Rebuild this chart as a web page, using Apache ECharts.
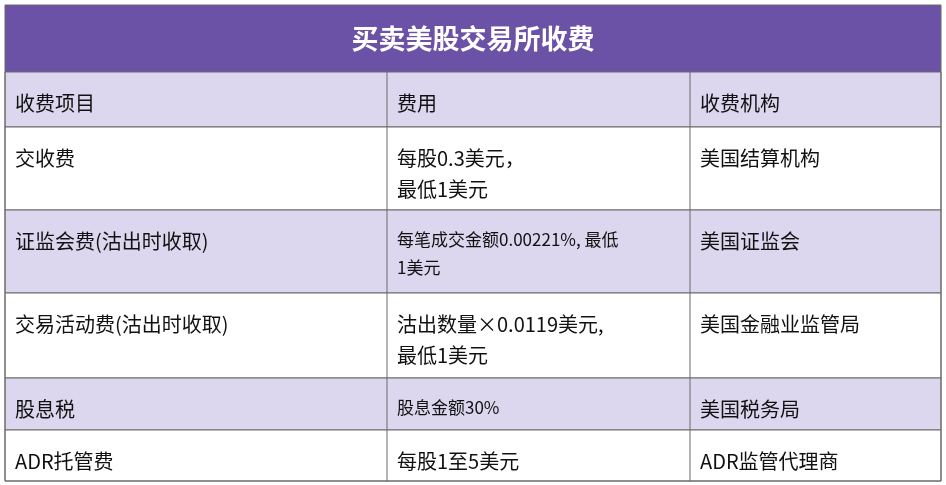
<!DOCTYPE html>
<html><head><meta charset="utf-8">
<script src="https://cdn.jsdelivr.net/npm/echarts@6/dist/echarts.min.js"></script>
<style>html,body{margin:0;background:#fff}#main{width:946px;height:485px}</style>
</head><body><div id="main"></div>
<script>
var title = '买卖美股交易所收费';
var headers = ['收费项目', '费用', '收费机构'];
var items = ['交收费', '证监会费(沽出时收取)', '交易活动费(沽出时收取)', '股息税', 'ADR托管费'];
var fees = ['每股0.3美元，\n最低1美元', '每笔成交金额0.00221%, 最低\n1美元', '沽出数量×0.0119美元,\n最低1美元', '股息金额30%', '每股1至5美元'];
var orgs = ['美国结算机构', '美国证监会', '美国金融业监管局', '美国税务局', 'ADR监管代理商'];

var colX = [5, 387, 690, 941];
var rowY = [72, 127, 210, 293, 378, 430, 481];
var purple = '#6b52a6', lav = '#dcd7ee', line = '#6a6a6a';
var font = '"Noto Sans CJK SC", sans-serif';

var chart = echarts.init(document.getElementById('main'));
var g = [];
g.push({type: 'rect', shape: {x: 5, y: 5, width: 936, height: 67}, style: {fill: purple}});
g.push({type: 'text', x: 473, y: 39, style: {text: title, fill: '#fff', font: 'bold 27px ' + font, align: 'center', verticalAlign: 'middle'}});
var rows = [headers].concat(items.map(function (it, i) { return [it, fees[i], orgs[i]]; }));
rows.forEach(function (r, i) {
  var y0 = rowY[i], y1 = rowY[i + 1];
  g.push({type: 'rect', shape: {x: 5, y: y0, width: 936, height: y1 - y0},
    style: {fill: i % 2 === 0 ? lav : '#fff', stroke: line, lineWidth: 1}});
  r.forEach(function (t, c) {
    var size = (c === 1 && (i === 2 || i === 4)) ? 17 : 20;
    g.push({type: 'text', x: colX[c] + 10, y: y0 + 16,
      style: {text: t, fill: '#111', font: size + 'px ' + font, lineHeight: size + 11, verticalAlign: 'top'}});
  });
});
for (var k = 1; k < 3; k++) {
  g.push({type: 'line', shape: {x1: colX[k], y1: 72, x2: colX[k], y2: 481}, style: {stroke: line, lineWidth: 1}});
}
g.push({type: 'rect', shape: {x: 5, y: 5, width: 936, height: 476}, style: {fill: null, stroke: line, lineWidth: 1}});
chart.setOption({graphic: g});
</script></body></html>
